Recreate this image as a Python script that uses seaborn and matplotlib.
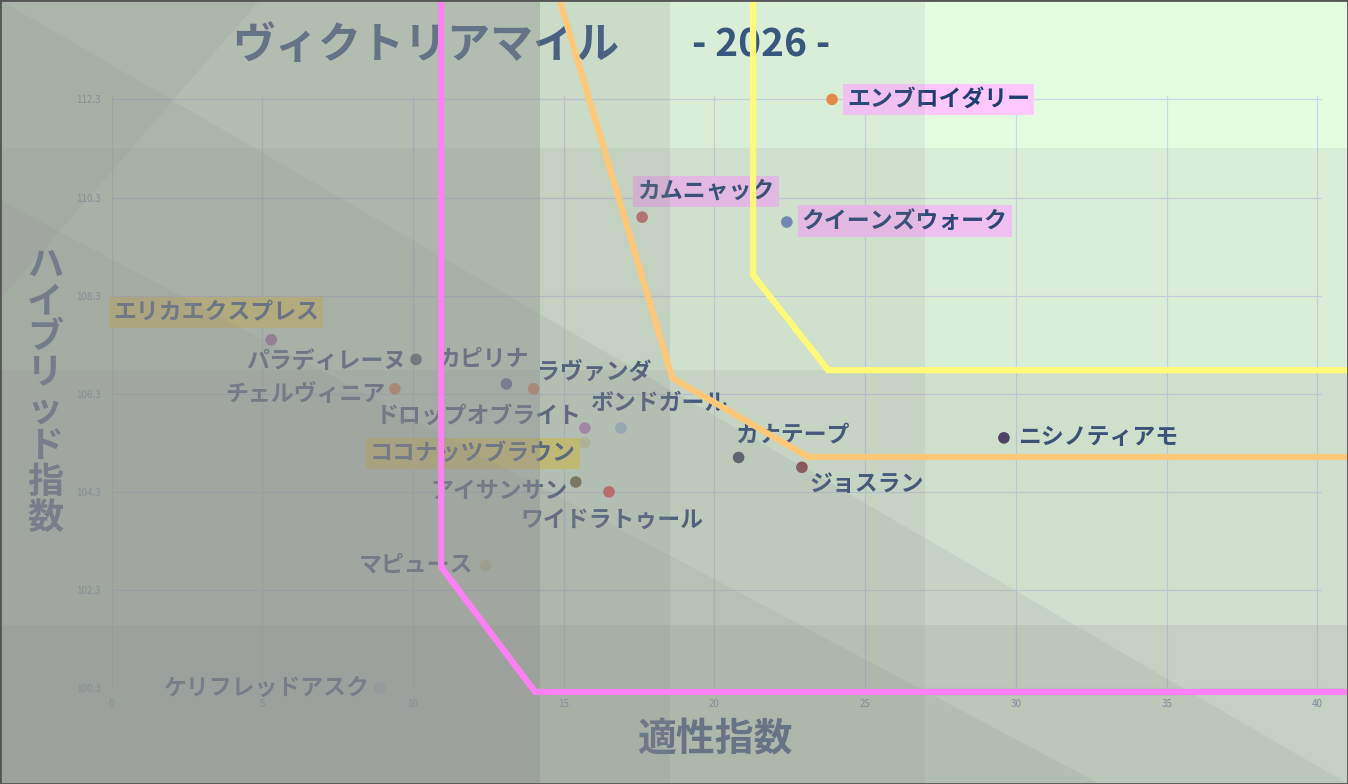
import numpy as np
import pandas as pd
import matplotlib
matplotlib.use("Agg")
import matplotlib.pyplot as plt
import seaborn as sns
from matplotlib.patches import Polygon, Rectangle

sns.set_theme(style="white")
plt.rcParams["font.family"] = ["Noto Sans CJK JP", "DejaVu Sans"]

# ---- data ----
horses = ["エンブロイダリー", "カムニャック", "クイーンズウォーク", "ニシノティアモ",
          "カナテープ", "ジョスラン", "ボンドガール", "ドロップオブライト",
          "ココナッツブラウン", "ラヴァンダ", "カピリナ", "パラディレーヌ",
          "チェルヴィニア", "エリカエクスプレス", "アイサンサン", "ワイドラトゥール",
          "マピュース", "ケリフレッドアスク"]
tekisei = [23.9, 17.6, 22.4, 29.6, 20.8, 22.9, 16.9, 15.7, 15.7, 14.0,
           13.1, 10.1, 9.4, 5.3, 15.4, 16.5, 12.4, 8.9]
hybrid = [112.3, 109.9, 109.8, 105.4, 105.0, 104.8, 105.6, 105.6, 105.3, 106.4,
          106.5, 107.0, 106.4, 107.4, 104.5, 104.3, 102.8, 100.3]
dot_colors = ["#f08a40", "#d06060", "#6a86c0", "#3a2a55", "#404458", "#8a3a3a",
              "#a0c8e8", "#c080c8", "#d8e0a0", "#f07a40", "#3a5a9a", "#404a58",
              "#f07a40", "#a060a0", "#606030", "#f04a40", "#d8d890", "#c8c8e0"]
highlight = {"エンブロイダリー": "#ffc8ff", "カムニャック": "#ffc8ff",
             "クイーンズウォーク": "#ffc8ff", "エリカエクスプレス": "#fff25a",
             "ココナッツブラウン": "#fff25a"}

# boundary lines (tekisei, hybrid)
pink_x = [10.93, 10.93, 14.05, 42.0]
pink_y = [114.5, 102.77, 100.22, 100.22]
orange_x = [14.78, 18.60, 23.11, 42.0]
orange_y = [114.5, 106.62, 105.01, 105.01]
yellow_x = [21.28, 21.28, 23.77, 42.0]
yellow_y = [114.5, 108.72, 106.78, 106.78]

xticks = list(range(0, 41, 5))
yticks = [100.3, 102.3, 104.3, 106.3, 108.3, 110.3, 112.3]

# label placement: (dx px, dy px, ha)
label_pos = {
    "エンブロイダリー": (15, 0, "left"), "カムニャック": (-5, 26, "left"),
    "クイーンズウォーク": (15, 1, "left"), "ニシノティアモ": (14, 0, "left"),
    "カナテープ": (-3, 22, "left"), "ジョスラン": (7, -17, "left"),
    "ボンドガール": (-31, 25, "left"), "ドロップオブライト": (-3, 12, "right"),
    "ココナッツブラウン": (-9, -11, "right"), "ラヴァンダ": (3, 17, "left"),
    "カピリナ": (-69, 25, "left"), "パラディレーヌ": (-10, -2, "right"),
    "チェルヴィニア": (-10, -6, "right"), "エリカエクスプレス": (48, 27, "right"),
    "アイサンサン": (-8, -9, "right"), "ワイドラトゥール": (-88, -29, "left"),
    "マピュース": (-12, 0, "right"), "ケリフレッドアスク": (-11, 0, "right"),
}

W, H = 1348, 784
df = pd.DataFrame({"horse": horses, "tekisei": tekisei, "hybrid": hybrid})

fig = plt.figure(figsize=(W / 100, H / 100), dpi=100, facecolor="#e4fde1")
ax = fig.add_axes([111.5 / W, 1 - 688 / H, (1322 - 111.5) / W, (688 - 96) / H])
ax.set_facecolor("none")

sns.scatterplot(data=df, x="tekisei", y="hybrid", hue="horse",
                palette=dict(zip(horses, dot_colors)), s=70, edgecolor="none",
                legend=False, ax=ax, zorder=3)
for coll in ax.collections:
    coll.set_clip_on(False)

navy = "#1f3f72"
for name, x, y in zip(horses, tekisei, hybrid):
    dx, dy, ha = label_pos[name]
    bb = None
    if name in highlight:
        bb = dict(boxstyle="square,pad=0.18", fc=highlight[name], ec="none")
    ax.annotate(name, (x, y), xytext=(dx * 0.72, dy * 0.72), textcoords="offset points",
                ha=ha, va="center", fontsize=16.5, color=navy, fontweight="bold",
                bbox=bb, zorder=4, annotation_clip=False)

ax.set_xlim(0, 40.15)
ax.set_ylim(100.3, 112.37)
ax.set_xticks(xticks)
ax.set_xticklabels([str(v) for v in xticks])
ax.set_yticks(yticks)
ax.set_yticklabels([f"{v:.1f}" for v in yticks])
ax.tick_params(length=0, labelsize=7, colors="#6f8cb0", pad=8)
ax.grid(True, color="#cdd6ea", lw=0.9)
for sp in ax.spines.values():
    sp.set_visible(False)
ax.set_xlabel("")
ax.set_ylabel("")

# title and axis titles
ftr = fig.transFigure
ax.text(232 / W, 1 - 45 / H, "ヴィクトリアマイル", transform=ftr, ha="left", va="center",
        fontsize=31, fontweight="bold", color="#2b4f7c", zorder=5)
ax.text(692 / W, 1 - 45 / H, "- 2026 -", transform=ftr, ha="left", va="center",
        fontsize=28, fontweight="bold", color="#2b4f7c", zorder=5)
ax.text(716 / W, 1 - 740 / H, "適性指数", transform=ftr, ha="center", va="center",
        fontsize=28, fontweight="bold", color="#2b4f7c", zorder=5)
ax.text(45 / W, 1 - 392 / H, "\n".join("ハイブリッド指数"), transform=ftr, ha="center",
        va="center", fontsize=26, fontweight="bold", color="#2b4f7c", linespacing=0.97,
        zorder=5)

# faceted grey veil over the lower-left
veil = "#908f90"
def fp(pts):
    return [(x / W, 1 - y / H) for x, y in pts]

shapes = [
    ([(0, 0), (925, 0), (925, H), (0, H)], 0.13),
    ([(0, 0), (670, 0), (670, H), (0, H)], 0.20),
    ([(0, 0), (540, 0), (540, H), (0, H)], 0.40),
    ([(0, 148), (W, 148), (W, H), (0, H)], 0.13),
    ([(0, 370), (W, 370), (W, H), (0, H)], 0.14),
    ([(0, 625), (W, 625), (W, H), (0, H)], 0.18),
    ([(0, 0), (W, H), (0, H)], 0.15),
    ([(0, 200), (1100, H), (0, H)], 0.15),
    ([(0, 0), (260, 0), (0, 300)], 0.15),
]
for pts, a in shapes:
    ax.add_patch(Polygon(fp(pts), closed=True, transform=ftr, fc=veil, ec="none",
                         alpha=a, clip_on=False, zorder=10))

# boundary lines on top
ax.plot(pink_x, pink_y, color="#ff80f2", lw=4.5, clip_on=False, zorder=20,
        solid_joinstyle="miter")
ax.plot(orange_x, orange_y, color="#ffc878", lw=4.5, clip_on=False, zorder=20,
        solid_joinstyle="miter")
ax.plot(yellow_x, yellow_y, color="#fff878", lw=4.5, clip_on=False, zorder=20,
        solid_joinstyle="miter")

fig.add_artist(Rectangle((0, 0), 1, 1, transform=ftr, fill=False, ec="#555555", lw=2,
                         zorder=50))

fig.savefig("out.png", dpi=100, facecolor=fig.get_facecolor())
